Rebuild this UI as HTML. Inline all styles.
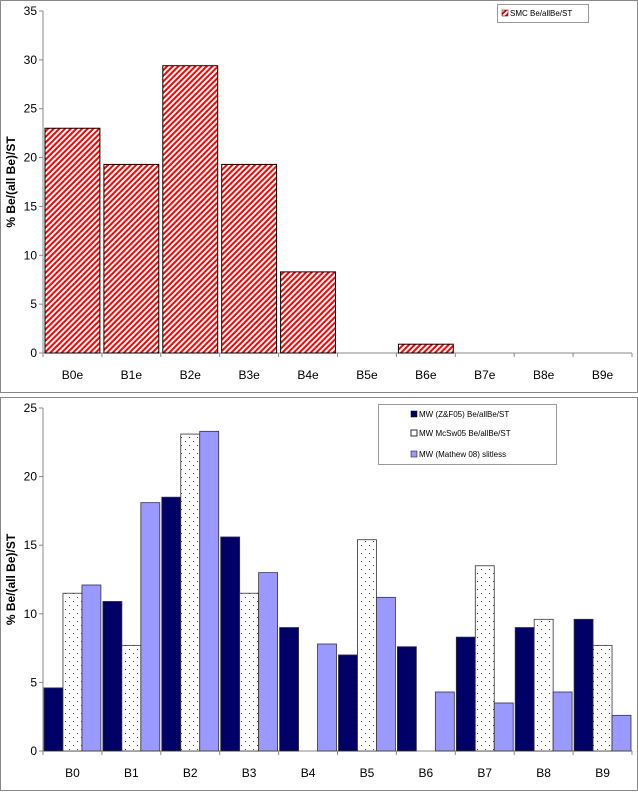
<!DOCTYPE html>
<html><head><meta charset="utf-8"><style>
body{margin:0;background:#fff;font-family:"Liberation Sans",sans-serif}
svg text{font-family:"Liberation Sans",sans-serif}
</style></head><body>
<svg id="s" width="638" height="791" xmlns="http://www.w3.org/2000/svg">
<defs>
<pattern id="hatch" patternUnits="userSpaceOnUse" width="4" height="4" patternTransform="rotate(45)">
<rect width="4" height="4" fill="#fff"/><rect width="2" height="4" fill="#f00"/></pattern>
<pattern id="dots" patternUnits="userSpaceOnUse" width="8" height="8">
<rect width="8" height="8" fill="#fff"/><rect x="1" y="1" width="1" height="1" fill="#063"/><rect x="5" y="5" width="1" height="1" fill="#063"/></pattern>
</defs>
<rect x="0.5" y="0.5" width="637" height="392" fill="#fff" stroke="#888"/>
<rect x="0.5" y="397.5" width="637" height="393" fill="#fff" stroke="#888"/>
<g id="topchart"></g><g id="botchart"></g>
<g>
<rect x="497.5" y="4.5" width="91" height="18" fill="#fff" stroke="#999"/>
<rect x="502" y="10" width="6" height="6" fill="url(#hatch)" stroke="#000" stroke-width="0.5"/>
<text x="510" y="16" font-size="8">SMC Be/allBe/ST</text></g>
<g>
<rect x="378.5" y="404.5" width="178" height="60" fill="#fff" stroke="#999"/>
<rect x="411" y="411" width="6" height="6" fill="#000066" stroke="#000" stroke-width="0.5"/>
<text x="419" y="417" font-size="8">MW (Z&amp;F05) Be/allBe/ST</text>
<rect x="411" y="430" width="6" height="6" fill="#fff" stroke="#000" stroke-width="0.8"/>
<text x="419" y="436" font-size="8">MW McSw05 Be/allBe/ST</text>
<rect x="411" y="451" width="6" height="6" fill="#9999ff" stroke="#000" stroke-width="0.5"/>
<text x="419" y="457" font-size="8">MW (Mathew 08) slitless</text></g>
</svg>
<script>
const topCats=["B0e","B1e","B2e","B3e","B4e","B5e","B6e","B7e","B8e","B9e"];
const topVals=[23,19.3,29.4,19.3,8.3,0,0.9,0,0,0];
const topTicks=[0,5,10,15,20,25,30,35];
const botCats=["B0","B1","B2","B3","B4","B5","B6","B7","B8","B9"];
const zf05=[4.6,10.9,18.5,15.6,9.0,7.0,7.6,8.3,9.0,9.6];
const mcsw05=[11.5,7.7,23.1,11.5,0,15.4,0,13.5,9.6,7.7];
const mathew08=[12.1,18.1,23.3,13.0,7.8,11.2,4.3,3.5,4.3,2.6];
const botTicks=[0,5,10,15,20,25];
const NS="http://www.w3.org/2000/svg";
function mk(p,t,a,txt){const e=document.createElementNS(NS,t);for(const k in a)e.setAttribute(k,a[k]);if(txt!==undefined)e.textContent=txt;p.appendChild(e);return e;}
function axes(g,L,R,y0,yTop,max,ticks,cats,ytitle,pre){
  const ys=v=>y0-(v/max)*(y0-yTop);
  const cw=(R-L)/cats.length;
  mk(g,"line",{x1:L,y1:yTop,x2:L,y2:y0+4,stroke:"#888"});
  mk(g,"line",{x1:L,y1:y0,x2:R,y2:y0,stroke:"#888"});
  ticks.forEach(t=>{mk(g,"line",{x1:L-4,y1:ys(t),x2:L,y2:ys(t),stroke:"#888"});
    const tx=mk(g,"text",{x:L-6,y:ys(t)+4,"font-size":"12","text-anchor":"end"},t);
    
    });
  cats.forEach((c,i)=>{mk(g,"line",{x1:L+cw*(i+1),y1:y0,x2:L+cw*(i+1),y2:y0+4,stroke:"#888"});
    const tx=mk(g,"text",{x:L+cw*(i+0.5),y:y0+26,"font-size":"12","text-anchor":"middle"},c);
    
    });
  const yt=mk(g,"text",{x:0,y:0,"font-size":"12","font-weight":"bold","text-anchor":"middle",transform:`translate(15,${(y0+yTop)/2}) rotate(-90)`},ytitle);
  
  
  return {ys,cw};
}
const topG=document.getElementById("topchart");
const a=axes(topG,43,632,353,11,35,topTicks,topCats,"% Be/(all Be)/ST","top-");
topVals.forEach((v,i)=>{if(v<=0)return;
  const r=mk(topG,"rect",{x:43+a.cw*i+2,y:a.ys(v),width:a.cw-4,height:353-a.ys(v),fill:"url(#hatch)",stroke:"#000","stroke-width":"1"});
  
  });
const botG=document.getElementById("botchart");
const b=axes(botG,43,632,751,408,25,botTicks,botCats,"% Be/(all Be)/ST","bottom-");
const series=[[zf05,"#000066","zf05"],[mcsw05,"url(#dots)","mcsw05"],[mathew08,"#9999ff","mathew08"]];
const bw=(b.cw-2)/3;
series.forEach(([vals,fill,nm],si)=>{vals.forEach((v,i)=>{if(v<=0)return;
  const r=mk(botG,"rect",{x:43+b.cw*i+1+bw*si,y:b.ys(v),width:bw,height:751-b.ys(v),fill:fill,stroke:"#333","stroke-width":"0.8"});
  
  });});
</script>
</body></html>
